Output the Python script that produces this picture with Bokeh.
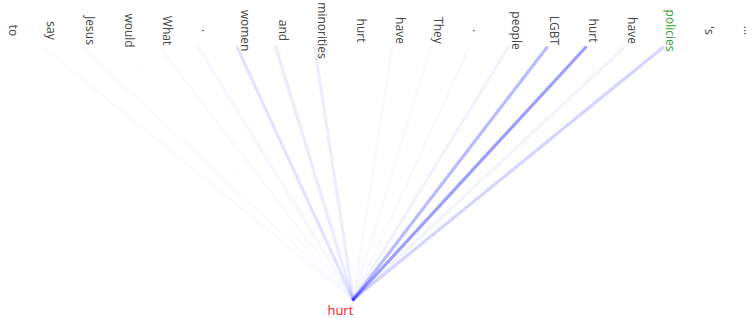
import numpy as np
from bokeh.plotting import figure
from bokeh.models import Range1d, ColumnDataSource
from bokeh.core.properties import value
from bokeh.embed import file_html
from bokeh.resources import INLINE

# Tokens along the top (attention targets)
tokens = ["to", "say", "Jesus", "would", "What", ".", "women", "and", "minorities",
          "hurt", "have", "They", ".", "people", "LGBT", "hurt", "have", "policies", "'s", "..."]
# Attention weight from the query token "hurt" (index 9) to each token
weights = [0.00, 0.015, 0.015, 0.008, 0.015, 0.03, 0.11, 0.08, 0.07,
           0.00, 0.025, 0.025, 0.025, 0.05, 0.27, 0.38, 0.045, 0.17, 0.00, 0.00]
token_colors = ["#444444"] * 17 + ["#35a035"] + ["#444444"] * 2
query_index = 9
query_word = "hurt"

W, H = 756, 318
step = 38.7
x0 = -4.5 / step
p = figure(width=W, height=H, output_backend="svg", toolbar_location=None,
           x_range=Range1d(x0, x0 + W / step), y_range=Range1d(0, H),
           min_border=0)
p.axis.visible = False
p.grid.visible = False
p.outline_line_color = None
p.background_fill_color = "white"
p.border_fill_color = "white"

n = len(tokens)
idx = list(range(n))
top_y = 271
bot_y = 19

seg = ColumnDataSource(dict(x0=idx, y0=[top_y] * n, x1=[query_index] * n, y1=[bot_y] * n,
                            a=weights))
p.segment("x0", "y0", "x1", "y1", source=seg, line_color="#0000ff", line_alpha="a",
          line_width=3.2, line_cap="round")

txt = ColumnDataSource(dict(x=idx, y=[288] * n, t=tokens, c=token_colors))
p.text("x", "y", text="t", source=txt, angle=-np.pi / 2, text_align="center",
       text_baseline="middle", x_offset=8, text_color="c",
       text_font=value("Open Sans"), text_font_size="12px")

p.text(x=[query_index], y=[9], text=[query_word], text_align="right",
       text_baseline="alphabetic", text_color="#ff2020",
       text_font=value("Open Sans"), text_font_size="13px")

open("out.html", "w").write(file_html(p, INLINE))
